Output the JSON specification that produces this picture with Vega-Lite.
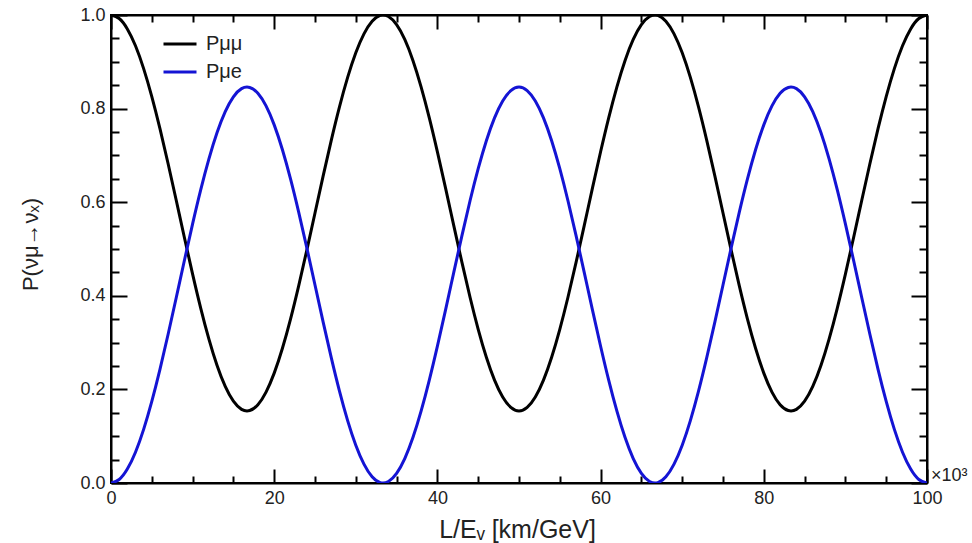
{
  "$schema": "https://vega.github.io/schema/vega-lite/v6.json",
  "width": 816,
  "height": 468,
  "autosize": {"type": "none"},
  "padding": {"left": 111, "top": 15, "right": 45, "bottom": 60},
  "config": {
    "font": "Liberation Sans",
    "view": {"stroke": "black", "strokeWidth": 2},
    "axis": {
      "domainColor": "black", "domainWidth": 2, "tickColor": "black", "tickWidth": 2,
      "grid": false, "labelFont": "Liberation Sans", "labelFontSize": 18, "labelColor": "#222222",
      "titleFont": "Liberation Sans", "titleFontWeight": "normal", "titleColor": "#222222",
      "labelFlush": false, "labelOverlap": false, "labelBound": false, "offset": 0
    }
  },
  "datasets": {
    "curves": [
      {"x":0,"pme":0,"pmm":1},{"x":1,"pme":0.0075,"pmm":0.9925},{"x":2,"pme":0.0297,"pmm":0.9703},{"x":3,"pme":0.0658,"pmm":0.9342},{"x":4,"pme":0.1146,"pmm":0.8854},
      {"x":5,"pme":0.1744,"pmm":0.8256},{"x":6,"pme":0.2429,"pmm":0.7571},{"x":7,"pme":0.3178,"pmm":0.6822},{"x":8,"pme":0.3964,"pmm":0.6036},{"x":9,"pme":0.4760,"pmm":0.5240},
      {"x":10,"pme":0.5537,"pmm":0.4463},{"x":11,"pme":0.6268,"pmm":0.3732},{"x":12,"pme":0.6926,"pmm":0.3074},{"x":13,"pme":0.7489,"pmm":0.2511},{"x":14,"pme":0.7937,"pmm":0.2063},
      {"x":15,"pme":0.8253,"pmm":0.1747},{"x":16,"pme":0.8427,"pmm":0.1573},{"x":17,"pme":0.8452,"pmm":0.1548},{"x":18,"pme":0.8327,"pmm":0.1673},{"x":19,"pme":0.8057,"pmm":0.1943},
      {"x":20,"pme":0.7652,"pmm":0.2348},{"x":21,"pme":0.7126,"pmm":0.2874},{"x":22,"pme":0.6497,"pmm":0.3503},{"x":23,"pme":0.5787,"pmm":0.4213},{"x":24,"pme":0.5023,"pmm":0.4977},
      {"x":25,"pme":0.4230,"pmm":0.5770},{"x":26,"pme":0.3437,"pmm":0.6563},{"x":27,"pme":0.2673,"pmm":0.7327},{"x":28,"pme":0.1963,"pmm":0.8037},{"x":29,"pme":0.1334,"pmm":0.8666},
      {"x":30,"pme":0.0808,"pmm":0.9192},{"x":31,"pme":0.0403,"pmm":0.9597},{"x":32,"pme":0.0133,"pmm":0.9867},{"x":33,"pme":0.0008,"pmm":0.9992},{"x":34,"pme":0.0033,"pmm":0.9967},
      {"x":35,"pme":0.0207,"pmm":0.9793},{"x":36,"pme":0.0523,"pmm":0.9477},{"x":37,"pme":0.0971,"pmm":0.9029},{"x":38,"pme":0.1534,"pmm":0.8466},{"x":39,"pme":0.2192,"pmm":0.7808},
      {"x":40,"pme":0.2923,"pmm":0.7077},{"x":41,"pme":0.3700,"pmm":0.6300},{"x":42,"pme":0.4496,"pmm":0.5504},{"x":43,"pme":0.5282,"pmm":0.4718},{"x":44,"pme":0.6031,"pmm":0.3969},
      {"x":45,"pme":0.6716,"pmm":0.3284},{"x":46,"pme":0.7314,"pmm":0.2686},{"x":47,"pme":0.7802,"pmm":0.2198},{"x":48,"pme":0.8163,"pmm":0.1837},{"x":49,"pme":0.8385,"pmm":0.1615},
      {"x":50,"pme":0.8460,"pmm":0.1540},{"x":51,"pme":0.8385,"pmm":0.1615},{"x":52,"pme":0.8163,"pmm":0.1837},{"x":53,"pme":0.7802,"pmm":0.2198},{"x":54,"pme":0.7314,"pmm":0.2686},
      {"x":55,"pme":0.6716,"pmm":0.3284},{"x":56,"pme":0.6031,"pmm":0.3969},{"x":57,"pme":0.5282,"pmm":0.4718},{"x":58,"pme":0.4496,"pmm":0.5504},{"x":59,"pme":0.3700,"pmm":0.6300},
      {"x":60,"pme":0.2923,"pmm":0.7077},{"x":61,"pme":0.2192,"pmm":0.7808},{"x":62,"pme":0.1534,"pmm":0.8466},{"x":63,"pme":0.0971,"pmm":0.9029},{"x":64,"pme":0.0523,"pmm":0.9477},
      {"x":65,"pme":0.0207,"pmm":0.9793},{"x":66,"pme":0.0033,"pmm":0.9967},{"x":67,"pme":0.0008,"pmm":0.9992},{"x":68,"pme":0.0133,"pmm":0.9867},{"x":69,"pme":0.0403,"pmm":0.9597},
      {"x":70,"pme":0.0808,"pmm":0.9192},{"x":71,"pme":0.1334,"pmm":0.8666},{"x":72,"pme":0.1963,"pmm":0.8037},{"x":73,"pme":0.2673,"pmm":0.7327},{"x":74,"pme":0.3437,"pmm":0.6563},
      {"x":75,"pme":0.4230,"pmm":0.5770},{"x":76,"pme":0.5023,"pmm":0.4977},{"x":77,"pme":0.5787,"pmm":0.4213},{"x":78,"pme":0.6497,"pmm":0.3503},{"x":79,"pme":0.7126,"pmm":0.2874},
      {"x":80,"pme":0.7652,"pmm":0.2348},{"x":81,"pme":0.8057,"pmm":0.1943},{"x":82,"pme":0.8327,"pmm":0.1673},{"x":83,"pme":0.8452,"pmm":0.1548},{"x":84,"pme":0.8427,"pmm":0.1573},
      {"x":85,"pme":0.8253,"pmm":0.1747},{"x":86,"pme":0.7937,"pmm":0.2063},{"x":87,"pme":0.7489,"pmm":0.2511},{"x":88,"pme":0.6926,"pmm":0.3074},{"x":89,"pme":0.6268,"pmm":0.3732},
      {"x":90,"pme":0.5537,"pmm":0.4463},{"x":91,"pme":0.4760,"pmm":0.5240},{"x":92,"pme":0.3964,"pmm":0.6036},{"x":93,"pme":0.3178,"pmm":0.6822},{"x":94,"pme":0.2429,"pmm":0.7571},
      {"x":95,"pme":0.1744,"pmm":0.8256},{"x":96,"pme":0.1146,"pmm":0.8854},{"x":97,"pme":0.0658,"pmm":0.9342},{"x":98,"pme":0.0297,"pmm":0.9703},{"x":99,"pme":0.0075,"pmm":0.9925},
      {"x":100,"pme":0,"pmm":1}
    ],
    "note": [{"x": 100, "y": 0, "t": "×10³"}]
  },
  "layer": [
    {
      "data": {"name": "curves"},
      "transform": [{"fold": ["pmm", "pme"], "as": ["series", "p"]}],
      "mark": {"type": "line", "strokeWidth": 3, "interpolate": "natural", "clip": true},
      "encoding": {
        "x": {
          "field": "x", "type": "quantitative",
          "scale": {"domain": [0, 100], "nice": false, "zero": false},
          "axis": {
            "orient": "bottom",
            "values": [0, 20, 40, 60, 80, 100],
            "tickSize": -14,
            "format": "d",
            "labelPadding": 20,
            "title": "L/Eᵥ [km/GeV]",
            "titleFontSize": 25,
            "titleX": 406,
            "titleY": 54,
            "titleBaseline": "alphabetic"
          }
        },
        "y": {
          "field": "p", "type": "quantitative",
          "scale": {"domain": [0, 1], "nice": false},
          "axis": {
            "orient": "left",
            "values": [0, 0.2, 0.4, 0.6, 0.8, 1],
            "tickSize": -16,
            "format": ".1f",
            "labelPadding": 22,
            "title": "P(νμ→νₓ)",
            "titleFontSize": 22,
            "titleX": -69,
            "titleY": 229
          }
        },
        "color": {
          "field": "series", "type": "nominal",
          "scale": {"domain": ["pmm", "pme"], "range": ["#000000", "#1414d4"]},
          "legend": {
            "orient": "none", "legendX": 51, "legendY": 11,
            "title": null, "symbolType": "stroke", "symbolSize": 1089, "symbolStrokeWidth": 3,
            "labelExpr": "datum.value === 'pmm' ? 'Pμμ' : 'Pμe'",
            "labelFont": "Liberation Sans", "labelFontSize": 20, "labelColor": "#222222",
            "labelOffset": 8, "rowPadding": -5, "padding": 0
          }
        }
      }
    },
    {
      "data": {"name": "curves"},
      "mark": {"type": "point", "opacity": 0},
      "encoding": {
        "x": {
          "field": "x", "type": "quantitative",
          "scale": {"domain": [0, 100], "nice": false, "zero": false},
          "axis": {"orient": "bottom", "values": [5,10,15,25,30,35,45,50,55,65,70,75,85,90,95], "tickSize": -7, "labels": false, "domain": false, "title": null}
        },
        "y": {
          "field": "pme", "type": "quantitative",
          "scale": {"domain": [0, 1], "nice": false},
          "axis": {"orient": "left", "values": [0.05,0.1,0.15,0.25,0.3,0.35,0.45,0.5,0.55,0.65,0.7,0.75,0.85,0.9,0.95], "tickSize": -8, "labels": false, "domain": false, "title": null}
        }
      }
    },
    {
      "data": {"name": "curves"},
      "mark": {"type": "point", "opacity": 0},
      "encoding": {
        "x": {
          "field": "x", "type": "quantitative",
          "scale": {"domain": [0, 100], "nice": false, "zero": false},
          "axis": {"orient": "top", "values": [0, 20, 40, 60, 80, 100], "tickSize": -14, "labels": false, "title": null}
        },
        "y": {
          "field": "pme", "type": "quantitative",
          "scale": {"domain": [0, 1], "nice": false},
          "axis": {"orient": "right", "values": [0, 0.2, 0.4, 0.6, 0.8, 1], "tickSize": -16, "labels": false, "title": null}
        }
      }
    },
    {
      "data": {"name": "curves"},
      "mark": {"type": "point", "opacity": 0},
      "encoding": {
        "x": {
          "field": "x", "type": "quantitative",
          "scale": {"domain": [0, 100], "nice": false, "zero": false},
          "axis": {"orient": "top", "values": [5,10,15,25,30,35,45,50,55,65,70,75,85,90,95], "tickSize": -7, "labels": false, "domain": false, "title": null}
        },
        "y": {
          "field": "pme", "type": "quantitative",
          "scale": {"domain": [0, 1], "nice": false},
          "axis": {"orient": "right", "values": [0.05,0.1,0.15,0.25,0.3,0.35,0.45,0.5,0.55,0.65,0.7,0.75,0.85,0.9,0.95], "tickSize": -8, "labels": false, "domain": false, "title": null}
        }
      }
    },
    {
      "data": {"name": "note"},
      "mark": {"type": "text", "align": "left", "baseline": "alphabetic", "dx": 4, "dy": -2, "fontSize": 18, "font": "Liberation Sans", "color": "#222222"},
      "encoding": {
        "x": {"field": "x", "type": "quantitative", "scale": {"domain": [0, 100], "nice": false, "zero": false}, "axis": null},
        "y": {"field": "y", "type": "quantitative", "scale": {"domain": [0, 1], "nice": false}, "axis": null},
        "text": {"field": "t"}
      }
    }
  ],
  "resolve": {"axis": {"x": "independent", "y": "independent"}}
}
